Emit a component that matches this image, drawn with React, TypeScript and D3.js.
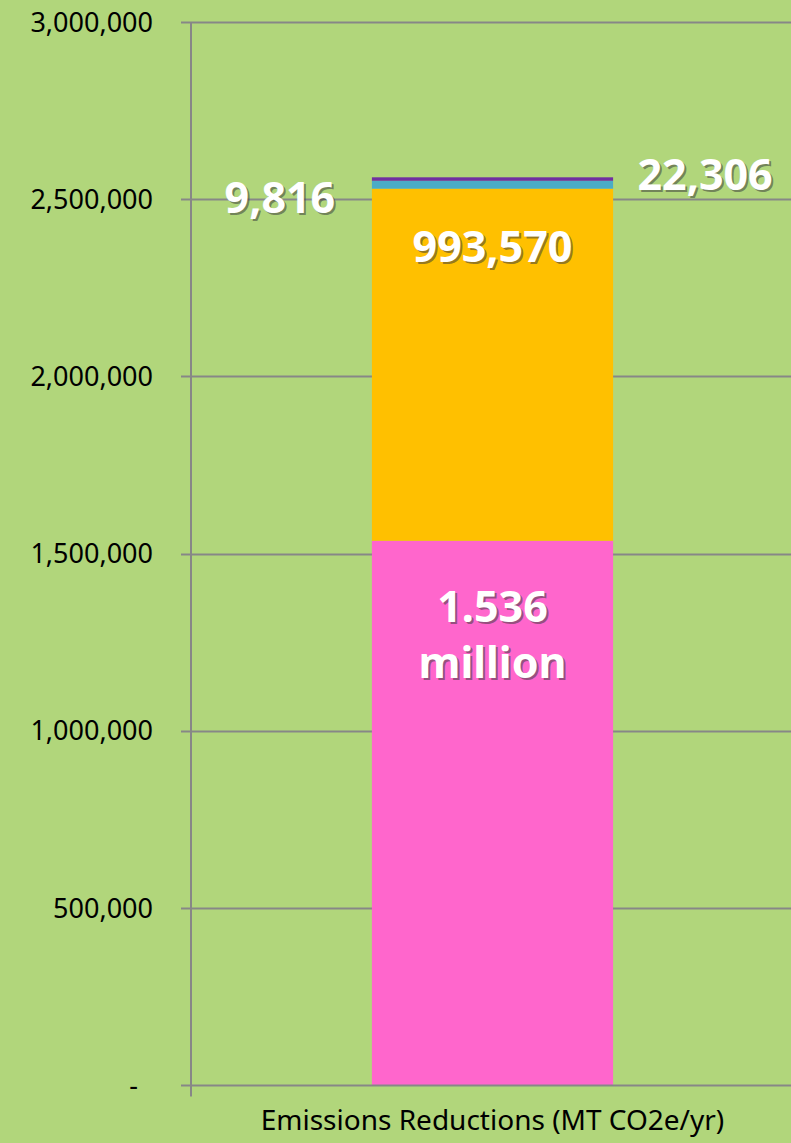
import * as d3 from "d3";
import { useEffect, useRef } from "react";

// категории и значения
const categories = ["Emissions Reductions (MT CO2e/yr)"];
const seriesValues = [1536000, 993570, 22306, 9816];
const seriesColors = ["#ff66cc", "#ffc000", "#4bacc6", "#7030a0"];
const seriesLabels = [["1.536", "million"], ["993,570"], ["22,306"], ["9,816"]];
const yTicks = [0, 500000, 1000000, 1500000, 2000000, 2500000, 3000000];

const W = 791;
const H = 1143;

const App = () => {
  const ref = useRef<SVGSVGElement | null>(null);

  useEffect(() => {
    const svg = d3.select(ref.current);
    svg.selectAll("*").remove();

    const margin = { top: 22, bottom: 58, left: 191, right: -3 };
    const bh = H - margin.top - margin.bottom;

    const x = d3
      .scaleBand()
      .domain(categories)
      .range([margin.left, W - margin.right])
      .paddingInner(0)
      .paddingOuter(0);

    const y = d3.scaleLinear().domain([0, 3000000]).range([margin.top + bh, margin.top]);

    svg.append("rect").attr("width", W).attr("height", H).attr("fill", "#b1d67b");

    // сетка
    svg
      .append("g")
      .selectAll("line")
      .data(yTicks.slice(1))
      .join("line")
      .attr("x1", margin.left - 10)
      .attr("x2", W)
      .attr("y1", (d) => Math.round(y(d)) + 0.5)
      .attr("y2", (d) => Math.round(y(d)) + 0.5)
      .attr("stroke", "#878787")
      .attr("stroke-width", 2);

    // столбик
    const bw = x.bandwidth() * 0.4;
    const bx = (x(categories[0]) as number) + (x.bandwidth() - bw) / 2;
    const stacked = d3.cumsum(seriesValues);
    svg
      .append("g")
      .selectAll("rect")
      .data(seriesValues)
      .join("rect")
      .attr("x", bx)
      .attr("width", bw)
      .attr("y", (_, i) => y(stacked[i]))
      .attr("height", (d, i) => y(stacked[i] - d) - y(stacked[i]))
      .attr("fill", (_, i) => seriesColors[i]);

    // оси
    const y0 = Math.round(y(0)) + 0.5;
    svg
      .append("line")
      .attr("x1", margin.left - 10)
      .attr("x2", W)
      .attr("y1", y0)
      .attr("y2", y0)
      .attr("stroke", "#878787")
      .attr("stroke-width", 2);
    svg
      .append("line")
      .attr("x1", margin.left)
      .attr("x2", margin.left)
      .attr("y1", margin.top)
      .attr("y2", y0 + 11)
      .attr("stroke", "#878787")
      .attr("stroke-width", 2);

    svg
      .append("g")
      .selectAll("text")
      .data(yTicks)
      .join("text")
      .attr("x", (d) => (d === 0 ? 138 : 153))
      .attr("y", (d) => y(d))
      .attr("dy", "0.36em")
      .attr("text-anchor", "end")
      .attr("font-family", "Noto Sans, sans-serif")
      .attr("font-size", 27)
      .attr("fill", "#000")
      .text((d) => (d === 0 ? "-" : d3.format(",")(d)));

    svg
      .append("text")
      .attr("x", (x(categories[0]) as number) + x.bandwidth() / 2)
      .attr("y", 1130)
      .attr("text-anchor", "middle")
      .attr("font-family", "Noto Sans, sans-serif")
      .attr("font-size", 28)
      .attr("fill", "#000")
      .text(categories[0]);

    // подписи значений
    const cx = bx + bw / 2;
    const pos = [
      { x: cx, y: y(stacked[0]) + 94 },
      { x: cx, y: y(stacked[1]) + 58 },
      { x: bx + bw + 92, y: y(stacked[2] - seriesValues[2] / 2) - 10 },
      { x: bx - 92, y: y(stacked[3] - seriesValues[3] / 2) + 18 },
    ];
    const lbl = svg.append("g");
    seriesLabels.forEach((lines, i) => {
      lines.forEach((t, j) => {
        const yy = pos[i].y + (j - (lines.length - 1) / 2) * 56;
        [true, false].forEach((shadow) => {
          lbl
            .append("text")
            .attr("x", pos[i].x + (shadow ? 2 : 0))
            .attr("y", yy + (shadow ? 2 : 0))
            .attr("dy", "0.36em")
            .attr("text-anchor", "middle")
            .attr("font-family", "Noto Sans, sans-serif")
            .attr("font-weight", "bold")
            .attr("font-size", 43)
            .attr("fill", shadow ? "rgba(60,60,60,0.55)" : "#fff")
            .text(t);
        });
      });
    });
  }, []);

  return (
    <svg
      ref={ref}
      width={W}
      height={H}
      style={{ position: "absolute", left: 0, top: 0, display: "block" }}
    />
  );
};

export default App;
